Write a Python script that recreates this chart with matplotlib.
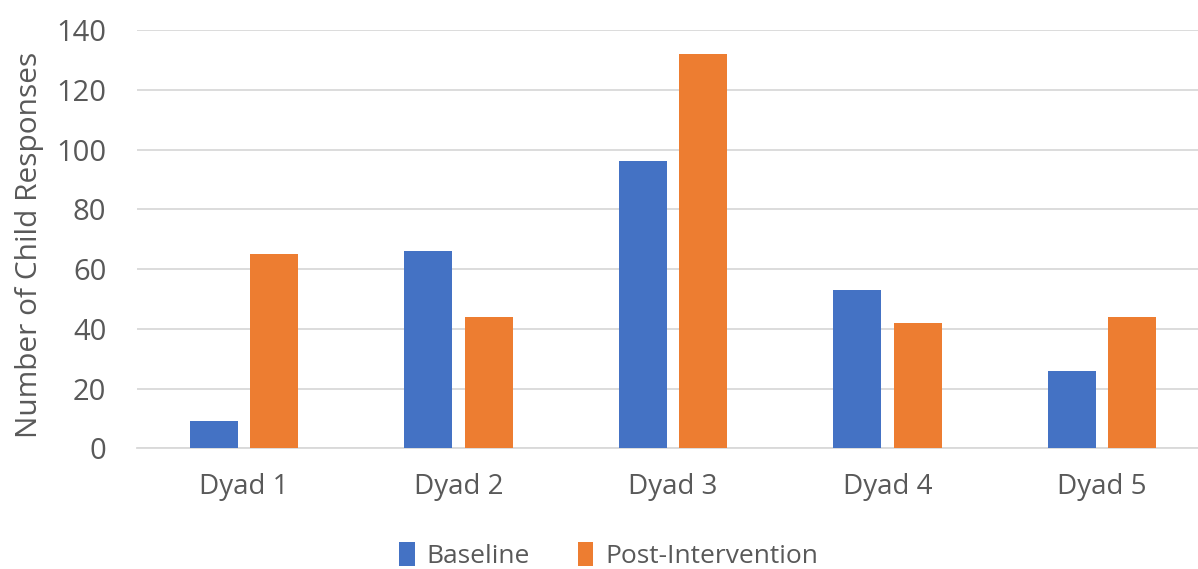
import matplotlib.pyplot as plt
import numpy as np

plt.rcParams["font.family"] = ["Open Sans", "DejaVu Sans"]

dyads = ["Dyad 1", "Dyad 2", "Dyad 3", "Dyad 4", "Dyad 5"]
baseline = [9, 66, 96, 53, 26]
post_intervention = [65, 44, 132, 42, 44]
y_ticks = [0, 20, 40, 60, 80, 100, 120, 140]

BLUE = "#4472C4"
ORANGE = "#ED7D31"
TEXT = "#595959"
GRID = "#D9D9D9"

fig = plt.figure(figsize=(11.98, 5.69), dpi=100)
ax = fig.add_axes([0.1144, 0.2121, 0.8948, 0.7352])

x = np.arange(len(dyads))
width = 0.224
offset = 0.141
ax.bar(x - offset, baseline, width, color=BLUE, label="Baseline", zorder=3)
ax.bar(x + offset, post_intervention, width, color=ORANGE,
       label="Post-Intervention", zorder=3)

ax.set_xlim(-0.5, len(dyads) - 0.5)
ax.set_ylim(0, 140)
ax.set_yticks(y_ticks)
ax.set_xticks(x)
ax.set_xticklabels(dyads)

ax.grid(axis="y", color=GRID, linewidth=1.3, zorder=0)
for side in ["top", "right", "left"]:
    ax.spines[side].set_visible(False)
ax.spines["bottom"].set_color(GRID)
ax.spines["bottom"].set_linewidth(1.3)

ax.tick_params(axis="y", length=0, pad=22, labelsize=21, labelcolor=TEXT)
ax.tick_params(axis="x", length=0, pad=18, labelsize=20, labelcolor=TEXT)

ax.set_ylabel("Number of Child Responses", fontsize=21.5, color=TEXT)
ax.yaxis.set_label_coords(-0.087, 0.486)

fig.legend(loc="upper center", bbox_to_anchor=(0.508, 0.066), ncol=2,
           frameon=False, fontsize=19, labelcolor=TEXT,
           handlelength=0.6, handleheight=1.0, handletextpad=0.45,
           columnspacing=1.8, borderaxespad=0)

fig.savefig("out.png", dpi=100)
